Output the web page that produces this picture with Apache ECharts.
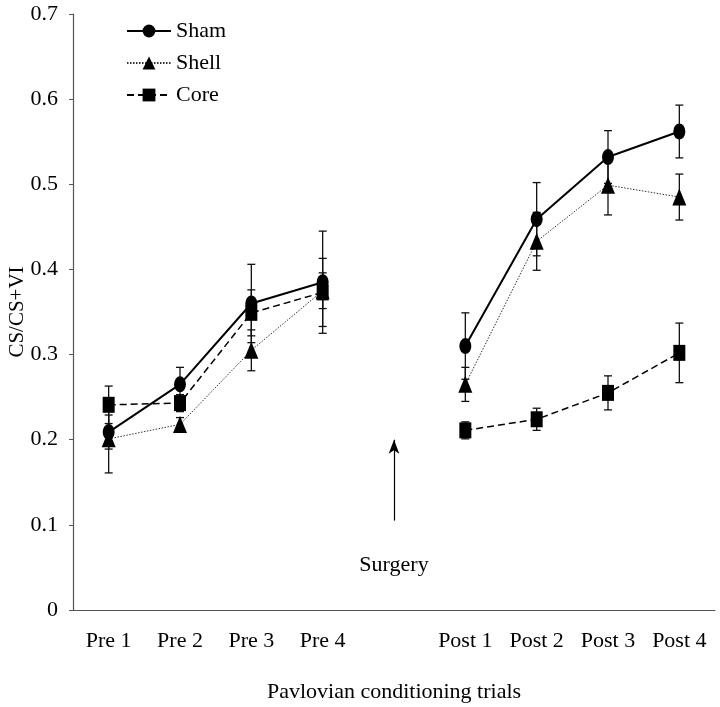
<!DOCTYPE html>
<html>
<head>
<meta charset="utf-8">
<script src="https://cdn.jsdelivr.net/npm/echarts@6/dist/echarts.min.js"></script>
<style>html,body{margin:0;padding:0;background:#fff}#c{width:720px;height:707px}</style>
</head>
<body>
<div id="c"></div>
<script>
const categories = ['Pre 1','Pre 2','Pre 3','Pre 4','','Post 1','Post 2','Post 3','Post 4'];
const yTicks = [0, 0.1, 0.2, 0.3, 0.4, 0.5, 0.6, 0.7];
const shamMean  = [0.209, 0.265, 0.360, 0.385, null, 0.310, 0.459, 0.532, 0.562];
const shamErr   = [0.020, 0.020, 0.046, 0.060, null, 0.039, 0.043, 0.031, 0.031];
const shellMean = [0.201, 0.218, 0.305, 0.375, null, 0.265, 0.433, 0.499, 0.485];
const shellErr  = [0.040, 0.008, 0.024, 0.021, null, 0.020, 0.034, 0.035, 0.027];
const coreMean  = [0.241, 0.243, 0.349, 0.373, null, 0.211, 0.224, 0.255, 0.302];
const coreErr   = [0.022, 0.010, 0.027, 0.040, null, 0.010, 0.013, 0.020, 0.035];
const surgeryArrow = [0.105, 0.200];
const surgeryTextY = 0.053;

const FONT = '"Liberation Serif", "DejaVu Serif", serif';

function errData(mean, err) {
  const out = [];
  mean.forEach((m, i) => { if (m !== null) out.push([i, m - err[i], m + err[i]]); });
  return out;
}
function errSeries(mean, err) {
  return {
    type: 'custom',
    z: 1,
    silent: true,
    data: errData(mean, err),
    renderItem: function (params, api) {
      const x = api.value(0);
      const lo = api.coord([x, api.value(1)]);
      const hi = api.coord([x, api.value(2)]);
      const hw = 4;
      const st = { stroke: '#111', lineWidth: 1.3 };
      return {
        type: 'group',
        children: [
          { type: 'line', shape: { x1: lo[0], y1: lo[1], x2: hi[0], y2: hi[1] }, style: st },
          { type: 'line', shape: { x1: lo[0] - hw, y1: lo[1], x2: lo[0] + hw, y2: lo[1] }, style: st },
          { type: 'line', shape: { x1: hi[0] - hw, y1: hi[1], x2: hi[0] + hw, y2: hi[1] }, style: st }
        ]
      };
    }
  };
}

const chart = echarts.init(document.getElementById('c'), null, { renderer: 'canvas' });
chart.setOption({
  animation: false,
  backgroundColor: '#fff',
  grid: { left: 73, right: 5, top: 14, bottom: 97, containLabel: false, outerBoundsMode: 'none' },
  legend: {
    orient: 'vertical',
    left: 121,
    top: 15,
    itemWidth: 44,
    itemHeight: 16,
    itemGap: 10,
    textStyle: { fontFamily: FONT, fontSize: 22, color: '#000' },
    data: ['Sham', 'Shell', 'Core']
  },
  xAxis: {
    type: 'category',
    data: categories,
    boundaryGap: true,
    name: 'Pavlovian conditioning trials',
    nameLocation: 'middle',
    nameGap: 71,
    nameTextStyle: { fontFamily: FONT, fontSize: 22, color: '#000' },
    axisLine: { lineStyle: { color: '#555', width: 1.2 } },
    axisTick: { alignWithLabel: true, length: 4, lineStyle: { color: '#555' }, interval: function (i, v) { return v !== ''; } },
    axisLabel: { fontFamily: FONT, fontSize: 22, color: '#000', margin: 20, interval: 0 },
    splitLine: { show: false }
  },
  yAxis: {
    type: 'value',
    min: 0, max: 0.7, interval: 0.1,
    name: 'CS/CS+VI',
    nameLocation: 'middle',
    nameGap: 45,
    nameMoveOverlap: false,
    nameRotate: 90,
    nameTextStyle: { fontFamily: FONT, fontSize: 21, color: '#000' },
    axisLine: { show: true, lineStyle: { color: '#555', width: 1.2 } },
    axisTick: { show: true, length: 4, lineStyle: { color: '#555' } },
    axisLabel: {
      fontFamily: FONT, fontSize: 22, color: '#000', margin: 15,
      formatter: function (v) { const t = yTicks.find(k => Math.abs(k - v) < 1e-9); return t === 0 ? '0' : (t !== undefined ? t.toFixed(1) : ''); }
    },
    splitLine: { show: false }
  },
  series: [
    errSeries(shamMean, shamErr),
    errSeries(shellMean, shellErr),
    errSeries(coreMean, coreErr),
    {
      name: 'Sham', type: 'line', data: shamMean, z: 5,
      symbol: 'circle', symbolSize: [12, 16],
      lineStyle: { color: '#000', width: 2, type: 'solid' },
      itemStyle: { color: '#000' }
    },
    {
      name: 'Shell', type: 'line', data: shellMean, z: 4,
      symbol: 'triangle', symbolSize: [14, 17],
      lineStyle: { color: '#333', width: 1, type: [1.5, 1.5] },
      itemStyle: { color: '#000' }
    },
    {
      name: 'Core', type: 'line', data: coreMean, z: 3,
      symbol: 'rect', symbolSize: [12, 16],
      lineStyle: { color: '#000', width: 1.5, type: [7, 4] },
      itemStyle: { color: '#000' },
      markLine: {
        silent: true,
        symbol: ['none', 'arrow'],
        symbolSize: [8, 14],
        label: { show: false },
        lineStyle: { color: '#000', width: 1.2, type: 'solid' },
        data: [[{ coord: [4, surgeryArrow[0]] }, { coord: [4, surgeryArrow[1]] }]]
      },
      markPoint: {
        silent: true,
        symbol: 'circle', symbolSize: 0,
        label: { show: true, formatter: 'Surgery', position: 'inside', fontFamily: FONT, fontSize: 22, color: '#000' },
        data: [{ coord: [4, surgeryTextY] }]
      }
    }
  ]
});
</script>
</body>
</html>
